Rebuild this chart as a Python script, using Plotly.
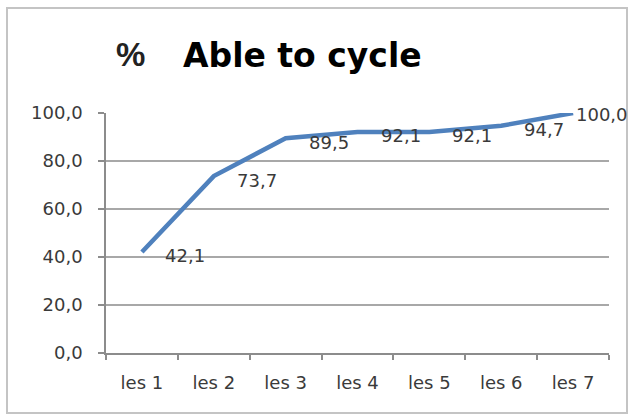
import plotly.graph_objects as go

categories = ["les 1", "les 2", "les 3", "les 4", "les 5", "les 6", "les 7"]
values = [42.1, 73.7, 89.5, 92.1, 92.1, 94.7, 100.0]
y_ticks = [0, 20, 40, 60, 80, 100]
title_prefix = "%"
title_text = "Able to cycle"

W, H = 635, 415
L, R, T, B = 106, 26, 113, 62
pw, ph = W - L - R, H - T - B

def px_x(p):
    return (p - L) / pw

def px_y(p):
    return (H - B - p) / ph

fig = go.Figure()
fig.add_trace(go.Scatter(
    x=categories, y=values, mode="lines",
    line=dict(color="#4F81BD", width=4.5),
    hoverinfo="skip", showlegend=False,
))

label_font = dict(family="DejaVu Sans", size=18, color="#3a3a3a")
for i, (c, v) in enumerate(zip(categories, values)):
    last = i == len(values) - 1
    fig.add_annotation(
        x=c, y=v, xref="x", yref="y",
        text=f"{v:.1f}".replace(".", ","),
        showarrow=False, xanchor="left", yanchor="middle",
        xshift=1 if last else 21, yshift=-1 if last else -4,
        font=label_font,
    )

fig.add_annotation(
    xref="paper", yref="paper", x=px_x(130), y=px_y(55),
    text=title_prefix, showarrow=False, xanchor="center", yanchor="middle",
    font=dict(family="Liberation Sans", size=33, color="#222222", weight="bold"),
)
fig.add_annotation(
    xref="paper", yref="paper", x=px_x(181), y=px_y(56),
    text=title_text, showarrow=False, xanchor="left", yanchor="middle",
    font=dict(family="DejaVu Sans", size=33, color="#000000", weight="bold"),
)

fig.add_shape(
    type="rect", xref="paper", yref="paper",
    x0=px_x(7), x1=px_x(627), y0=px_y(413), y1=px_y(8),
    line=dict(color="#c4c4c4", width=2), fillcolor="rgba(0,0,0,0)", layer="below",
)

fig.update_layout(
    width=W, height=H,
    margin=dict(l=L, r=R, t=T, b=B, pad=0),
    paper_bgcolor="white", plot_bgcolor="white",
    separators=",.",
    showlegend=False,
)
fig.update_xaxes(
    type="category", range=[-0.5, len(categories) - 0.5],
    showline=True, linecolor="#8c8c8c", linewidth=1.5,
    ticks="outside", tickson="boundaries", ticklen=5, tickcolor="#8c8c8c", tickwidth=1.5,
    showgrid=False, zeroline=False,
    tickfont=dict(family="DejaVu Sans", size=18, color="#3a3a3a"),
    ticklabelstandoff=13,
)
fig.update_yaxes(
    range=[0, 100], tickvals=y_ticks, tickformat=".1f",
    showline=True, linecolor="#8c8c8c", linewidth=1.5,
    ticks="outside", ticklen=6, tickcolor="#8c8c8c", tickwidth=1.5,
    showgrid=True, gridcolor="#a8a8a8", gridwidth=1.5, zeroline=False,
    tickfont=dict(family="DejaVu Sans", size=18, color="#3a3a3a"),
    ticklabelstandoff=12,
)

fig.write_html(
    "out.html",
    config={"displayModeBar": False},
    post_script="document.body.style.margin='0';document.body.style.overflow='hidden';",
)
